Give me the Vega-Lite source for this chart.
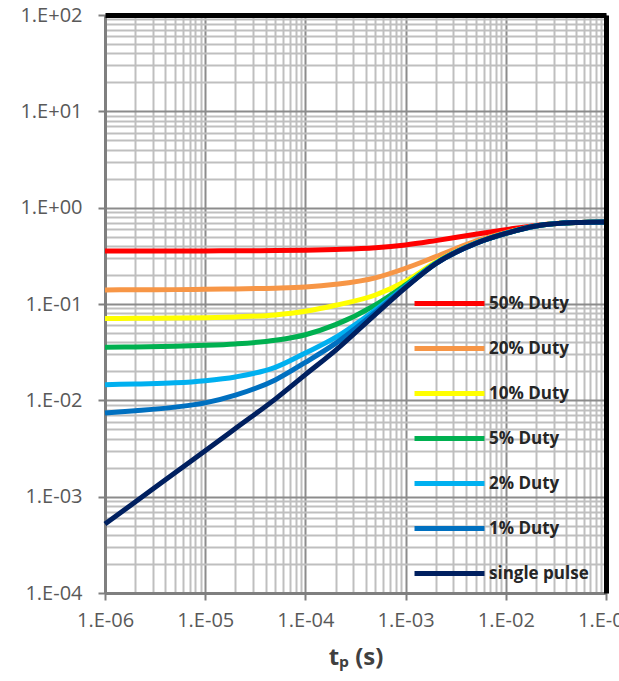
{
  "$schema": "https://vega.github.io/schema/vega-lite/v6.json",
  "width": 501,
  "height": 578,
  "autosize": "none",
  "padding": {"left": 105, "top": 15, "right": 13, "bottom": 88},
  "background": "white",
  "config": {"view": {"stroke": null}},
  "data": {"values": [
    {"t": 1e-6, "z": 0.355, "s": "50% Duty"}, {"t": 2e-6, "z": 0.355, "s": "50% Duty"}, {"t": 5e-6, "z": 0.355, "s": "50% Duty"}, {"t": 1e-5, "z": 0.356, "s": "50% Duty"}, {"t": 2e-5, "z": 0.357, "s": "50% Duty"}, {"t": 5e-5, "z": 0.359, "s": "50% Duty"}, {"t": 1e-4, "z": 0.362, "s": "50% Duty"}, {"t": 2e-4, "z": 0.368, "s": "50% Duty"}, {"t": 5e-4, "z": 0.383, "s": "50% Duty"}, {"t": 1e-3, "z": 0.41, "s": "50% Duty"}, {"t": 2e-3, "z": 0.455, "s": "50% Duty"}, {"t": 5e-3, "z": 0.53, "s": "50% Duty"}, {"t": 1e-2, "z": 0.59, "s": "50% Duty"}, {"t": 2e-2, "z": 0.655, "s": "50% Duty"}, {"t": 5e-2, "z": 0.70, "s": "50% Duty"}, {"t": 1e-1, "z": 0.71, "s": "50% Duty"},
    {"t": 1e-6, "z": 0.140, "s": "20% Duty"}, {"t": 2e-6, "z": 0.1405, "s": "20% Duty"}, {"t": 5e-6, "z": 0.141, "s": "20% Duty"}, {"t": 1e-5, "z": 0.142, "s": "20% Duty"}, {"t": 2e-5, "z": 0.1435, "s": "20% Duty"}, {"t": 5e-5, "z": 0.146, "s": "20% Duty"}, {"t": 1e-4, "z": 0.150, "s": "20% Duty"}, {"t": 2e-4, "z": 0.160, "s": "20% Duty"}, {"t": 5e-4, "z": 0.187, "s": "20% Duty"}, {"t": 1e-3, "z": 0.235, "s": "20% Duty"}, {"t": 2e-3, "z": 0.31, "s": "20% Duty"}, {"t": 5e-3, "z": 0.45, "s": "20% Duty"}, {"t": 1e-2, "z": 0.55, "s": "20% Duty"}, {"t": 2e-2, "z": 0.648, "s": "20% Duty"}, {"t": 5e-2, "z": 0.70, "s": "20% Duty"}, {"t": 1e-1, "z": 0.71, "s": "20% Duty"},
    {"t": 1e-6, "z": 0.0705, "s": "10% Duty"}, {"t": 2e-6, "z": 0.071, "s": "10% Duty"}, {"t": 5e-6, "z": 0.0715, "s": "10% Duty"}, {"t": 1e-5, "z": 0.072, "s": "10% Duty"}, {"t": 2e-5, "z": 0.0735, "s": "10% Duty"}, {"t": 5e-5, "z": 0.077, "s": "10% Duty"}, {"t": 1e-4, "z": 0.084, "s": "10% Duty"}, {"t": 2e-4, "z": 0.097, "s": "10% Duty"}, {"t": 5e-4, "z": 0.124, "s": "10% Duty"}, {"t": 1e-3, "z": 0.172, "s": "10% Duty"}, {"t": 2e-3, "z": 0.272, "s": "10% Duty"}, {"t": 5e-3, "z": 0.43, "s": "10% Duty"}, {"t": 1e-2, "z": 0.542, "s": "10% Duty"}, {"t": 2e-2, "z": 0.646, "s": "10% Duty"}, {"t": 5e-2, "z": 0.70, "s": "10% Duty"}, {"t": 1e-1, "z": 0.71, "s": "10% Duty"},
    {"t": 1e-6, "z": 0.0355, "s": "5% Duty"}, {"t": 2e-6, "z": 0.0358, "s": "5% Duty"}, {"t": 5e-6, "z": 0.0364, "s": "5% Duty"}, {"t": 1e-5, "z": 0.0372, "s": "5% Duty"}, {"t": 2e-5, "z": 0.0385, "s": "5% Duty"}, {"t": 5e-5, "z": 0.042, "s": "5% Duty"}, {"t": 1e-4, "z": 0.048, "s": "5% Duty"}, {"t": 2e-4, "z": 0.061, "s": "5% Duty"}, {"t": 5e-4, "z": 0.098, "s": "5% Duty"}, {"t": 1e-3, "z": 0.158, "s": "5% Duty"}, {"t": 2e-3, "z": 0.266, "s": "5% Duty"}, {"t": 5e-3, "z": 0.427, "s": "5% Duty"}, {"t": 1e-2, "z": 0.541, "s": "5% Duty"}, {"t": 2e-2, "z": 0.645, "s": "5% Duty"}, {"t": 5e-2, "z": 0.70, "s": "5% Duty"}, {"t": 1e-1, "z": 0.71, "s": "5% Duty"},
    {"t": 1e-6, "z": 0.0145, "s": "2% Duty"}, {"t": 2e-6, "z": 0.0148, "s": "2% Duty"}, {"t": 5e-6, "z": 0.0152, "s": "2% Duty"}, {"t": 1e-5, "z": 0.0160, "s": "2% Duty"}, {"t": 2e-5, "z": 0.0175, "s": "2% Duty"}, {"t": 5e-5, "z": 0.022, "s": "2% Duty"}, {"t": 1e-4, "z": 0.031, "s": "2% Duty"}, {"t": 2e-4, "z": 0.045, "s": "2% Duty"}, {"t": 5e-4, "z": 0.087, "s": "2% Duty"}, {"t": 1e-3, "z": 0.152, "s": "2% Duty"}, {"t": 2e-3, "z": 0.264, "s": "2% Duty"}, {"t": 5e-3, "z": 0.426, "s": "2% Duty"}, {"t": 1e-2, "z": 0.541, "s": "2% Duty"}, {"t": 2e-2, "z": 0.645, "s": "2% Duty"}, {"t": 5e-2, "z": 0.70, "s": "2% Duty"}, {"t": 1e-1, "z": 0.71, "s": "2% Duty"},
    {"t": 1e-6, "z": 0.0074, "s": "1% Duty"}, {"t": 2e-6, "z": 0.0078, "s": "1% Duty"}, {"t": 5e-6, "z": 0.0085, "s": "1% Duty"}, {"t": 1e-5, "z": 0.0094, "s": "1% Duty"}, {"t": 2e-5, "z": 0.0113, "s": "1% Duty"}, {"t": 5e-5, "z": 0.0163, "s": "1% Duty"}, {"t": 1e-4, "z": 0.0248, "s": "1% Duty"}, {"t": 2e-4, "z": 0.039, "s": "1% Duty"}, {"t": 5e-4, "z": 0.082, "s": "1% Duty"}, {"t": 1e-3, "z": 0.15, "s": "1% Duty"}, {"t": 2e-3, "z": 0.263, "s": "1% Duty"}, {"t": 5e-3, "z": 0.426, "s": "1% Duty"}, {"t": 1e-2, "z": 0.54, "s": "1% Duty"}, {"t": 2e-2, "z": 0.645, "s": "1% Duty"}, {"t": 5e-2, "z": 0.70, "s": "1% Duty"}, {"t": 1e-1, "z": 0.71, "s": "1% Duty"},
    {"t": 1e-6, "z": 0.00052, "s": "single pulse"}, {"t": 2e-6, "z": 0.00088, "s": "single pulse"}, {"t": 5e-6, "z": 0.00177, "s": "single pulse"}, {"t": 1e-5, "z": 0.0030, "s": "single pulse"}, {"t": 2e-5, "z": 0.0051, "s": "single pulse"}, {"t": 5e-5, "z": 0.0103, "s": "single pulse"}, {"t": 1e-4, "z": 0.0185, "s": "single pulse"}, {"t": 2e-4, "z": 0.033, "s": "single pulse"}, {"t": 5e-4, "z": 0.078, "s": "single pulse"}, {"t": 1e-3, "z": 0.148, "s": "single pulse"}, {"t": 2e-3, "z": 0.262, "s": "single pulse"}, {"t": 5e-3, "z": 0.425, "s": "single pulse"}, {"t": 1e-2, "z": 0.54, "s": "single pulse"}, {"t": 2e-2, "z": 0.645, "s": "single pulse"}, {"t": 5e-2, "z": 0.70, "s": "single pulse"}, {"t": 1e-1, "z": 0.71, "s": "single pulse"}
  ]},
  "layer": [
    {
      "mark": {"type": "line", "strokeWidth": 5, "interpolate": "monotone", "strokeCap": "butt"},
      "encoding": {
        "x": {
          "field": "t", "type": "quantitative",
          "scale": {"type": "log", "domain": [1e-6, 1e-1], "nice": false},
          "axis": {
            "orient": "bottom",
            "values": [1e-6, 2e-6, 3e-6, 4e-6, 5e-6, 6e-6, 7e-6, 8e-6, 9e-6, 1e-5, 2e-5, 3e-5, 4e-5, 5e-5, 6e-5, 7e-5, 8e-5, 9e-5, 1e-4, 2e-4, 3e-4, 4e-4, 5e-4, 6e-4, 7e-4, 8e-4, 9e-4, 1e-3, 2e-3, 3e-3, 4e-3, 5e-3, 6e-3, 7e-3, 8e-3, 9e-3, 1e-2, 2e-2, 3e-2, 4e-2, 5e-2, 6e-2, 7e-2, 8e-2, 9e-2, 1e-1],
            "labelExpr": "abs(log(datum.value)/LN10 - round(log(datum.value)/LN10)) < 0.001 ? '1.E' + (datum.value < 1 ? '-' : '+') + '0' + abs(round(log(datum.value)/LN10)) : ''",
            "grid": true,
            "gridColor": {"condition": {"test": "abs(log(datum.value)/LN10 - round(log(datum.value)/LN10)) < 0.001", "value": "#8c8c8c"}, "value": "#bfbfbf"},
            "gridWidth": 2,
            "domainColor": "#7f7f7f", "domainWidth": 3,
            "tickColor": "#7f7f7f", "tickSize": 7, "tickWidth": 2,
            "tickOpacity": {"condition": {"test": "abs(log(datum.value)/LN10 - round(log(datum.value)/LN10)) < 0.001", "value": 1}, "value": 0},
            "labelFont": "Open Sans", "labelFontSize": 20, "labelColor": "#595959", "labelPadding": 10,
            "labelFlush": false, "labelOverlap": false, "labelBound": false,
            "title": "tₚ (s)", "titleFont": "Open Sans", "titleFontSize": 24, "titleFontWeight": "bold", "titleColor": "#404040", "titlePadding": 15
          }
        },
        "y": {
          "field": "z", "type": "quantitative",
          "scale": {"type": "log", "domain": [1e-4, 1e2], "nice": false},
          "axis": {
            "orient": "left",
            "values": [1e-4, 2e-4, 3e-4, 4e-4, 5e-4, 6e-4, 7e-4, 8e-4, 9e-4, 1e-3, 2e-3, 3e-3, 4e-3, 5e-3, 6e-3, 7e-3, 8e-3, 9e-3, 1e-2, 2e-2, 3e-2, 4e-2, 5e-2, 6e-2, 7e-2, 8e-2, 9e-2, 0.1, 0.2, 0.3, 0.4, 0.5, 0.6, 0.7, 0.8, 0.9, 1, 2, 3, 4, 5, 6, 7, 8, 9, 10, 20, 30, 40, 50, 60, 70, 80, 90, 100],
            "labelExpr": "abs(log(datum.value)/LN10 - round(log(datum.value)/LN10)) < 0.001 ? '1.E' + (datum.value < 0.999 ? '-' : '+') + '0' + abs(round(log(datum.value)/LN10)) : ''",
            "grid": true,
            "gridColor": {"condition": {"test": "abs(log(datum.value)/LN10 - round(log(datum.value)/LN10)) < 0.001", "value": "#8c8c8c"}, "value": "#bfbfbf"},
            "gridWidth": 2,
            "domainColor": "#7f7f7f", "domainWidth": 3,
            "tickColor": "#7f7f7f", "tickSize": 7, "tickWidth": 2,
            "tickOpacity": {"condition": {"test": "abs(log(datum.value)/LN10 - round(log(datum.value)/LN10)) < 0.001", "value": 1}, "value": 0},
            "labelFont": "Open Sans", "labelFontSize": 20, "labelColor": "#595959", "labelPadding": 16,
            "labelOverlap": false, "labelFlush": false, "labelBound": false,
            "title": null
          }
        },
        "color": {
          "field": "s", "type": "nominal",
          "scale": {
            "domain": ["50% Duty", "20% Duty", "10% Duty", "5% Duty", "2% Duty", "1% Duty", "single pulse"],
            "range": ["#ff0000", "#f79646", "#ffff00", "#00b050", "#00b0f0", "#0070c0", "#002060"]
          },
          "legend": {
            "orient": "none", "legendX": 330, "legendY": 274, "title": null, "padding": 0,
            "symbolType": "M-3,0H3", "symbolSize": 544, "symbolStrokeWidth": 5,
            "labelFont": "Open Sans", "labelFontSize": 17, "labelFontWeight": "bold", "labelColor": "#262626",
            "labelOffset": 25, "rowPadding": 20, "labelLimit": 200
          }
        }
      }
    },
    {
      "mark": {"type": "line", "strokeOpacity": 0},
      "encoding": {
        "x": {"field": "t", "type": "quantitative", "scale": {"type": "log", "domain": [1e-6, 1e-1], "nice": false},
          "axis": {"orient": "top", "domainColor": "black", "domainWidth": 5, "ticks": false, "labels": false, "grid": false, "title": null, "zindex": 1}},
        "y": {"field": "z", "type": "quantitative", "scale": {"type": "log", "domain": [1e-4, 1e2], "nice": false},
          "axis": {"orient": "right", "domainColor": "black", "domainWidth": 5, "ticks": false, "labels": false, "grid": false, "title": null, "zindex": 1}},
        "detail": {"field": "s"}
      }
    }
  ]
}
